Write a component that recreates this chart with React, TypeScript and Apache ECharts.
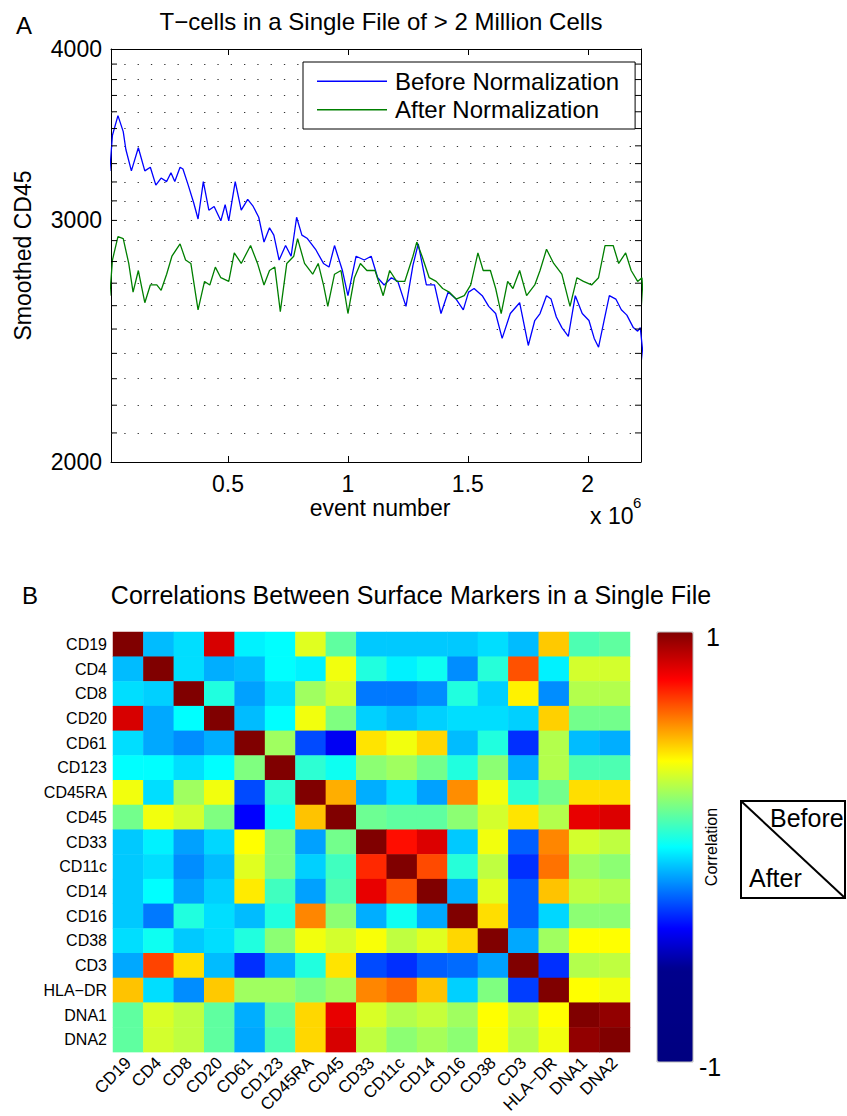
import React, { useEffect, useRef } from "react";
import * as echarts from "echarts";

// ---------- Panel A data (event number in millions, smoothed CD45) ----------
const beforeEvents = [
  0.007, 0.018, 0.041, 0.063, 0.074, 0.097, 0.126, 0.153, 0.176, 0.199,
  0.221, 0.244, 0.262, 0.278, 0.3, 0.312, 0.334, 0.357, 0.375, 0.397,
  0.42, 0.442, 0.47, 0.488, 0.503, 0.53, 0.555, 0.582, 0.605, 0.628,
  0.65, 0.673, 0.691, 0.713, 0.74, 0.763, 0.786, 0.808, 0.831, 0.865,
  0.898, 0.921, 0.944, 0.977, 1.0, 1.034, 1.068, 1.097, 1.124, 1.151,
  1.181, 1.208, 1.242, 1.271, 1.293, 1.327, 1.361, 1.388, 1.418, 1.451,
  1.481, 1.503, 1.526, 1.56, 1.587, 1.616, 1.643, 1.677, 1.716, 1.752,
  1.779, 1.801, 1.828, 1.847, 1.869, 1.892, 1.919, 1.948, 1.977, 2.005,
  2.027, 2.045, 2.068, 2.09, 2.117, 2.14, 2.163, 2.19, 2.208, 2.219,
  2.235,
];
const beforeValues = [
  3260, 3461, 3577, 3482, 3379, 3260, 3389, 3260, 3280, 3183,
  3221, 3202, 3250, 3202, 3280, 3270, 3183, 3089, 3007, 3202,
  3052, 3071, 2998, 3080, 2998, 3202, 3052, 3108, 3071, 3016,
  2893, 2963, 2927, 2807, 2876, 2825, 3016, 2927, 2910, 2858,
  2791, 2774, 2876, 2758, 2644, 2825, 2807, 2825, 2725, 2692,
  2725, 2708, 2597, 2782, 2884, 2692, 2692, 2566, 2660, 2629,
  2582, 2660, 2676, 2644, 2597, 2566, 2461, 2566, 2613, 2432,
  2536, 2566, 2644, 2629, 2551, 2506, 2469, 2644, 2566, 2536,
  2461, 2425, 2536, 2644, 2629, 2582, 2559, 2506, 2491, 2506,
  2353,
];
const afterEvents = [
  0.007, 0.018, 0.041, 0.063, 0.086, 0.104, 0.126, 0.153, 0.176, 0.203,
  0.221, 0.244, 0.266, 0.3, 0.323, 0.345, 0.375, 0.402, 0.424, 0.447,
  0.47, 0.503, 0.526, 0.555, 0.594, 0.623, 0.65, 0.673, 0.695, 0.718,
  0.745, 0.774, 0.79, 0.819, 0.853, 0.876, 0.898, 0.916, 0.944, 0.971,
  1.0, 1.027, 1.052, 1.079, 1.113, 1.147, 1.174, 1.203, 1.237, 1.271,
  1.287, 1.309, 1.339, 1.368, 1.395, 1.422, 1.451, 1.485, 1.512, 1.542,
  1.564, 1.594, 1.616, 1.639, 1.666, 1.688, 1.716, 1.745, 1.779, 1.801,
  1.828, 1.858, 1.892, 1.926, 1.955, 1.982, 2.016, 2.045, 2.072, 2.106,
  2.129, 2.158, 2.181, 2.208, 2.226, 2.235,
];
const afterValues = [
  2644, 2807, 2919, 2910, 2791, 2660, 2758, 2613, 2692, 2692,
  2668, 2741, 2825, 2884, 2807, 2791, 2582, 2708, 2692, 2774,
  2725, 2708, 2841, 2791, 2876, 2791, 2692, 2758, 2774, 2574,
  2791, 2825, 2910, 2791, 2741, 2791, 2692, 2597, 2741, 2758,
  2566, 2725, 2791, 2758, 2758, 2644, 2758, 2708, 2708, 2825,
  2893, 2825, 2725, 2708, 2676, 2660, 2629, 2644, 2692, 2841,
  2758, 2758, 2676, 2566, 2708, 2676, 2758, 2644, 2692, 2758,
  2858, 2791, 2741, 2597, 2725, 2708, 2692, 2725, 2876, 2876,
  2791, 2841, 2758, 2708, 2725, 2566,
];
const xTickValues = [0.5, 1, 1.5, 2];
const yLabelValues = [2000, 3000, 4000];
const yMinorValues = [
  2100, 2200, 2300, 2400, 2500, 2600, 2700, 2800, 2900, 3000,
  3100, 3200, 3300, 3400, 3500, 3600, 3700, 3800, 3900,
];

// ---------- Panel B data ----------
const markers = [
  "CD19", "CD4", "CD8", "CD20", "CD61", "CD123", "CD45RA", "CD45", "CD33",
  "CD11c", "CD14", "CD16", "CD38", "CD3", "HLA\u2212DR", "DNA1", "DNA2",
];
const corrCD19 = [1, -0.1, -0.05, 0.85, -0.02, 0, 0.35, 0.15, -0.08, -0.08, -0.08, -0.08, -0.05, -0.1, 0.48, 0.12, 0.15];
const corrCD4 = [-0.1, 1, -0.05, -0.12, -0.1, 0, -0.02, 0.38, 0.05, -0.02, 0.02, -0.17, 0.06, 0.66, -0.02, 0.33, 0.33];
const corrCD8 = [-0.05, -0.07, 1, 0.05, -0.14, -0.05, 0.25, 0.33, -0.2, -0.2, -0.17, 0.05, -0.07, 0.42, -0.17, 0.28, 0.28];
const corrCD20 = [0.85, -0.13, 0, 1, -0.1, 0, 0.38, 0.2, -0.07, -0.1, -0.07, -0.05, -0.05, -0.07, 0.47, 0.18, 0.18];
const corrCD61 = [-0.05, -0.13, -0.17, -0.12, 1, 0.25, -0.27, -0.4, 0.44, 0.38, 0.46, -0.1, 0.05, -0.31, 0.28, -0.1, -0.12];
const corrCD123 = [0, 0, -0.05, 0, 0.2, 1, 0.07, 0.02, 0.22, 0.25, 0.18, 0.05, 0.22, -0.12, 0.28, 0.12, 0.12];
const corrCD45RA = [0.38, -0.05, 0.25, 0.38, -0.27, 0.07, 1, 0.52, -0.12, -0.05, -0.14, 0.57, 0.38, 0.07, 0.18, 0.45, 0.45];
const corrCD45 = [0.18, 0.38, 0.33, 0.2, -0.38, 0.02, 0.49, 1, 0.17, 0.15, 0.15, 0.22, 0.33, 0.44, 0.28, 0.82, 0.84];
const corrCD33 = [-0.08, -0.02, -0.14, -0.06, 0.4, 0.2, -0.14, 0.18, 1, 0.76, 0.84, -0.08, 0.38, -0.24, 0.58, 0.33, 0.3];
const corrCD11c = [-0.08, -0.05, -0.17, -0.1, 0.35, 0.2, -0.07, 0.1, 0.72, 1, 0.67, 0.06, 0.3, -0.31, 0.61, 0.25, 0.22];
const corrCD14 = [-0.08, 0, -0.14, -0.07, 0.43, 0.1, -0.14, 0.12, 0.82, 0.66, 1, -0.12, 0.35, -0.24, 0.49, 0.3, 0.28];
const corrCD16 = [-0.08, -0.2, 0.05, -0.05, -0.1, 0.05, 0.58, 0.22, -0.12, 0.02, -0.13, 1, 0.45, -0.24, -0.06, 0.22, 0.22];
const corrCD38 = [-0.05, 0.02, -0.08, -0.05, 0.05, 0.22, 0.38, 0.33, 0.39, 0.3, 0.35, 0.46, 1, -0.13, 0.25, 0.4, 0.4];
const corrCD3 = [-0.13, 0.68, 0.45, -0.1, -0.31, -0.12, 0.05, 0.44, -0.27, -0.31, -0.24, -0.22, -0.14, 1, -0.31, 0.28, 0.3];
const corrHLADR = [0.49, -0.05, -0.17, 0.48, 0.25, 0.25, 0.2, 0.25, 0.58, 0.62, 0.49, -0.07, 0.2, -0.29, 1, 0.4, 0.38];
const corrDNA1 = [0.15, 0.34, 0.3, 0.15, -0.12, 0.15, 0.46, 0.82, 0.34, 0.28, 0.31, 0.25, 0.4, 0.3, 0.4, 1, 0.97];
const corrDNA2 = [0.15, 0.33, 0.3, 0.15, -0.13, 0.12, 0.46, 0.85, 0.3, 0.22, 0.26, 0.22, 0.39, 0.28, 0.38, 0.97, 1];
const corrRows = [
  corrCD19, corrCD4, corrCD8, corrCD20, corrCD61, corrCD123, corrCD45RA, corrCD45,
  corrCD33, corrCD11c, corrCD14, corrCD16, corrCD38, corrCD3, corrHLADR, corrDNA1, corrDNA2,
];

// ---------- styles ----------
const FONT = "'Liberation Sans', Arial, Helvetica, sans-serif";
const A = { left: 111, top: 49, width: 530, height: 413 };
const B = { left: 113, top: 632, width: 517, height: 430 };
const X_MIN = 0.012;
const X_MAX = 2.222;
const CB = { left: 657, top: 632, width: 36, height: 430 };

// colour map stops
const cmapStops: [number, number[]][] = [
  [-1, [0, 0, 128]],
  [-0.57, [0, 0, 140]],
  [-0.38, [0, 0, 255]],
  [0, [0, 255, 255]],
  [0.4, [255, 255, 0]],
  [0.78, [255, 0, 0]],
  [1, [128, 0, 0]],
];
function cmap(v: number): string {
  for (let i = 0; i < cmapStops.length - 1; i++) {
    const [v0, c0] = cmapStops[i];
    const [v1, c1] = cmapStops[i + 1];
    if (v >= v0 && v <= v1) {
      const f = (v - v0) / (v1 - v0);
      const c = c0.map((a, k) => Math.round(a + (c1[k] - a) * f));
      return `rgb(${c[0]},${c[1]},${c[2]})`;
    }
  }
  return "rgb(128,0,0)";
}
const rampColors: string[] = [];
for (let i = 0; i <= 100; i++) rampColors.push(cmap(-1 + (2 * i) / 100));

function txt(
  text: string, x: number, y: number, fontSize: number,
  align = "center", vAlign = "middle", rotation = 0
) {
  return {
    type: "text", x, y, rotation, z: 50,
    style: {
      text, fontSize, fontFamily: FONT, fill: "#000",
      align, verticalAlign: vAlign, textAlign: align, textVerticalAlign: vAlign,
    },
  };
}

export default function App() {
  const ref = useRef<HTMLDivElement>(null);
  useEffect(() => {
    document.body.style.margin = "0";
    const chart = echarts.init(ref.current!, null, { renderer: "svg" });
    const blackLine = { lineStyle: { color: "#000", width: 1 } };
    const heatData: number[][] = [];
    corrRows.forEach((row, r) => row.forEach((v, c) => heatData.push([c, r, v])));

    const option: any = {
      animation: false,
      textStyle: { fontFamily: FONT },
      grid: [
        { left: A.left, top: A.top, width: A.width, height: A.height },
        { left: B.left, top: B.top, width: B.width, height: B.height },
      ],
      legend: {
        data: [
          { name: "Before Normalization", icon: "rect" },
          { name: "After Normalization", icon: "rect" },
        ],
        orient: "vertical",
        left: 303,
        top: 62,
        padding: [5, 16, 5, 14],
        itemGap: 0,
        itemWidth: 70,
        itemHeight: 1.5,
        backgroundColor: "#fff",
        borderColor: "#000",
        borderWidth: 1,
        textStyle: { fontSize: 24, color: "#000", lineHeight: 28.5, padding: [0, 0, 0, 3], fontFamily: FONT },
      },
      xAxis: [
        {
          gridIndex: 0, type: "value", min: X_MIN, max: X_MAX, position: "bottom",
          axisLine: { onZero: false, ...blackLine },
          axisTick: { inside: true, length: 6, customValues: xTickValues, ...blackLine },
          axisLabel: { customValues: xTickValues, fontSize: 23, color: "#000", margin: 10, fontFamily: FONT },
          splitLine: { show: false },
        },
        {
          gridIndex: 0, type: "value", min: X_MIN, max: X_MAX, position: "top",
          axisLine: { onZero: false, ...blackLine },
          axisTick: { inside: true, length: 6, customValues: xTickValues, ...blackLine },
          axisLabel: { show: false },
          splitLine: { show: false },
        },
        {
          gridIndex: 1, type: "category", data: markers,
          axisLine: { show: false }, axisTick: { show: false },
          axisLabel: { rotate: 45, fontSize: 17, color: "#000", interval: 0, margin: 8, fontFamily: FONT },
          splitLine: { show: false },
        },
      ],
      yAxis: [
        {
          gridIndex: 0, type: "log", min: 2000, max: 4000, position: "left",
          axisLine: { show: true, onZero: false, ...blackLine },
          axisTick: { show: false }, axisLabel: { show: false }, splitLine: { show: false },
          minorTick: { show: false }, minorSplitLine: { show: false },
        },
        {
          gridIndex: 0, type: "log", min: 2000, max: 4000, position: "right",
          axisLine: { show: true, onZero: false, ...blackLine },
          axisTick: { show: false }, axisLabel: { show: false }, splitLine: { show: false },
          minorTick: { show: false }, minorSplitLine: { show: false },
        },
        {
          gridIndex: 1, type: "category", data: markers, inverse: true,
          axisLine: { show: false }, axisTick: { show: false },
          axisLabel: { fontSize: 16, color: "#000", margin: 6, interval: 0, fontFamily: FONT },
          splitLine: { show: false },
        },
      ],
      visualMap: {
        type: "continuous", min: -1, max: 1, seriesIndex: 2, calculable: false,
        orient: "vertical", left: CB.left, top: CB.top, itemWidth: CB.width, itemHeight: CB.height,
        padding: 0, inRange: { color: rampColors }, hoverLink: false,
      },
      series: [
        {
          name: "Before Normalization", type: "line", xAxisIndex: 0, yAxisIndex: 0,
          data: beforeEvents.map((e, i) => [e, beforeValues[i]]),
          symbol: "none", showSymbol: false, color: "#0000ff",
          itemStyle: { color: "#0000ff" },
          lineStyle: { color: "#0000ff", width: 1.3 }, clip: true, z: 3,
          markLine: {
            silent: true, symbol: ["none", "none"], label: { show: false },
            lineStyle: { type: [1.3, 12], color: "#333", width: 1 },
            data: yMinorValues.map((v) => ({ yAxis: v })),
            animation: false, z: 1,
          },
        },
        {
          name: "After Normalization", type: "line", xAxisIndex: 0, yAxisIndex: 0,
          data: afterEvents.map((e, i) => [e, afterValues[i]]),
          symbol: "none", showSymbol: false, color: "#007f00",
          itemStyle: { color: "#007f00" },
          lineStyle: { color: "#007f00", width: 1.3 }, clip: true, z: 3,
        },
        {
          type: "heatmap", xAxisIndex: 2, yAxisIndex: 2, data: heatData,
          itemStyle: { borderWidth: 0 }, emphasis: { disabled: true },
        },
      ],
    };
    chart.setOption(option);

    const yPix = (v: number) => chart.convertToPixel({ yAxisIndex: 0 }, v) as unknown as number;
    const right = A.left + A.width;
    const g: any[] = [];
    yLabelValues.forEach((v) => g.push(txt(String(v), A.left - 9, yPix(v), 23, "right", "middle")));
    yMinorValues.forEach((v) => {
      const y = yPix(v);
      g.push({ type: "line", z: 40, shape: { x1: A.left, y1: y, x2: A.left + 6, y2: y }, style: { stroke: "#000", lineWidth: 1 } });
      g.push({ type: "line", z: 40, shape: { x1: right - 6, y1: y, x2: right, y2: y }, style: { stroke: "#000", lineWidth: 1 } });
    });
    g.push(txt("A", 24, 25, 24));
    g.push(txt("T\u2212cells in a Single File of > 2 Million Cells", 381, 21, 24));
    g.push(txt("Smoothed CD45", 23, A.top + A.height / 2, 23, "center", "middle", Math.PI / 2));
    g.push(txt("event number", 380, 508, 23));
    g.push(txt("x 10", 590, 516, 23, "left", "middle"));
    g.push(txt("6", 633, 502, 15, "left", "middle"));
    g.push(txt("B", 30, 595, 24));
    g.push(txt("Correlations Between Surface Markers in a Single File", 411, 595, 25));
    g.push(txt("1", 706, 637, 25, "left", "middle"));
    g.push(txt("-1", 699, 1067, 25, "left", "middle"));
    g.push(txt("Correlation", 711, 847, 16, "center", "middle", Math.PI / 2));
    g.push({
      type: "rect", z: 45, shape: { x: CB.left, y: CB.top, width: CB.width, height: CB.height },
      style: { fill: "none", stroke: "#bbb", lineWidth: 1 },
    });
    g.push({
      type: "rect", z: 45, shape: { x: 741, y: 801, width: 104, height: 97 },
      style: { fill: "none", stroke: "#000", lineWidth: 2 },
    });
    g.push({
      type: "line", z: 45, shape: { x1: 741, y1: 801, x2: 845, y2: 898 },
      style: { stroke: "#000", lineWidth: 2 },
    });
    g.push(txt("Before", 770, 818, 25, "left", "middle"));
    g.push(txt("After", 749, 878, 25, "left", "middle"));
    chart.setOption({ graphic: g });

    return () => chart.dispose();
  }, []);
  return <div ref={ref} style={{ width: 847, height: 1116 }} />;
}
